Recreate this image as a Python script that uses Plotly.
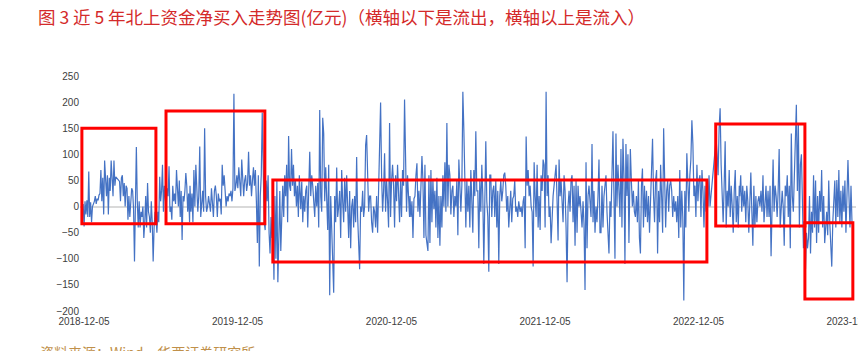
import pandas as pd
import plotly.graph_objects as go

# ---- data: daily net northbound buying (亿元), in chunks ----
chunk_starts = ["2018-12-03", "2019-08-14", "2020-05-01", "2021-01-18",
                "2021-10-07", "2022-06-26", "2023-03-13"]
chunk_ends = ["2019-08-13", "2020-04-30", "2021-01-17", "2021-10-06",
              "2022-06-25", "2023-03-12", "2023-12-05"]

vals_a = [5, -38, 10, -15, 12, -20, 67, -20, 8, -30, 0, 5, 10, 20, 5, 15, 12, 22,
          25, 70, 10, 55, -15, 88, 40, 20, 60, -15, 55, 30, 88, 50, 20, 88, 40, 57, 55,
          52, 50, 48, 10, 55, 60, 20, 45, 0, 40, 35, -25, 20, -20, 25, 35, 30, -5,
          -105, 0, 114, 10, -40, 10, -40, -10, -20, 0, -60, -30, 20, -40, 45, -10, -20,
          -50, 10, -30, -105, -40, -10, -20, -50, -10, -30,
          57, 10, 30, 80, -10, 40, 15, 0, 35, 20, 77, -10, 0, -25, 40, 10, 25, 5,
          70, 30, 0, 50, -20, 30, -64, 20, 10, 30, 64, 40, -10, 25, -30]
vals_b = [40, -10, 25, -30, 70, 0, 80, 10, -10, 20, 115, -20, 20, 30, -10, 150, 20, -10,
          0, 20, 5, -10, 35, 10, -20, 30, 40, 20, -20, 25, 10, 15, -15,
          80, 40, 60, 30, 0, 20, 10, 25, 20, 30, 10, 35, 216,
          30, 40, 60, 35, 75, 50, 20, 90, 40, 20, 50, 60, 30, 45,
          105, 40, 60, 20, 50, 75, 40, 70, 10, -70, 60, -115, 20,
          60, 180, 100, -30, -45, 50, 10, 60, -50, -90, -20, -60,
          -30, -140, 20, -100, 50, -145, -60, 30, -85, 10,
          40, -20, 60, 20, 80, -30, 135, 40, 30, 110, 40, 80, 20, 50, 0, 40, -20, 60]
vals_c = [20, -5, 48, -30, 20, -10, 30, 40, -40, 30, 105, 20, 60, 40, 10, -20, 40, 0, 45, -40,
          185, 20, -10, 170, 140, 10, 75, -20, -45, 80, -170, 20, -50, -100, -165, 20, -30,
          75, -20, 0, 30, -60, 70, 10, -30, 55, -10, 60, -20, -60, 30, -80, 0, 15,
          -40, 20, -30, 95, -20, -60, -120, 0, -10, 30, -20, 0, 118, 137, 40, -10, 20,
          20, -30, -50, 0, -10, -40, 20, -50, 30, 112, 199, 60, -10,
          30, 102, -10, 50, 10, -40, 160, -20, 50, 80, 40, -40, 60, 10,
          80, 20, -30, 50, -20, 70, 40, 205, 50, -10, 60, 10, -20]
vals_d = [20, -20, 10, -60, 15, 20, 60, 83, -10, 30, -20, 30, 97, 50, -60,
          80, -55, -70, -85, 60, -70, 70, -30, 50, -5, 30, -40, 55, -60, 20,
          -75, 20, -40, 60, 0, 85, -10, 160, 0, 80, 60, -15, 30, 40, -20,
          20, 0, 50, -55, 90, 20, -10, 40, 220, 147, 30, -40, 50, -10, 40, -40,
          70, 10, -50, 70, 20, 144, 30, 30, -80, 50, -10, 80, 20, -110, 50, 125, 10, -20,
          -125, 60, 60, -20, 30, 40, -20, 50, -40, 30, -110, 20,
          50, 10, 30, 60, 65, 40, -10, 20, -40, 0, 30, -30, 15, 20, 50, -10, 0, -20, 10, -5]
vals_e = [-10, 0, -20, 10, 20, -80, 134, 40, 70, 20, 40, 0, -10, -115, 85, 20, -20,
          80, -40, 20, -45, 60, 30, 90, 80, -40, 220, 20, 60, -20, 0, -70,
          -10, 20, 40, 60, 80, 10, -65, 90, 20, 50, 0, -30, 60, 30, -40, -145, 0, 30,
          -10, 50, 60, -30, 40, -75, 50, -50, 40, 0, 20, -20, -40, 10, -35,
          -160, 85, -80, 20, 40, 0, -20, 120, -30, 30, -50, 0, -30, 20, 90, -50,
          -50, 40, -40, 20, 40, 60, -10, -60, -90, 10, -20, 60, 144,
          20, -100, 140, 0, 80, 20, -20, 110, -40, 130, 60, -110, 120, 20, 100, -70, 80]
vals_f = [110, 50, 0, 30, -10, -20, 20, -30, 50, -60, -90, 40, 73, -40, 40, -20, 30,
          -30, 20, -50, 20, 60, 130, 20, -30, 50, 70, -90, 30, -30, 80, 20, -50,
          150, 10, -40, 30, 50, -10, 40, 50, 30, -20, 20, -10, 10, -30, 20,
          -60, 70, -40, 30, -20, -180, 30, -40, 102, 40, -10, 60, 90, 165, 120, 20,
          40, -20, 80, 10, 50, 60, -20, 70, 30, -40, 40, -10, 20, 0, 60,
          0, 20, 50, 60, 90, 110, 130, 100, 60, 150, 188, 80, 20, -30,
          40, 125, -40, 30, 0, 70, -20, 40, 0, -50, 30, 70, -30, 20, -40, 40]
vals_g = [20, 60, -10, 40, 0, 30, -30, 40, 10, -50, 30, 65, -10, -75, 40,
          -40, 20, -30, 10, 20, 0, 30, -10, 60, -30, 10, 40, -20, 30, -20, 40,
          -95, 30, 90, -10, 40, 20, -20, 30, 110, -40, -10, 30, 0, -75, 40,
          20, 60, -20, 40, -80, 140, 20, -10, 60, 100, 195, 30, 160, -40, 80,
          100, 20, -80, -30, -120, -50, -80, -60, 20, -90, -10, -50, 60, -40, 50,
          -70, 20, -50, 30, -10, 70, -40, 20, -70, -30, -10, -55, 50, -30, -70,
          -115, -30, 20, 50, -40, 51, -20, 70, -30, 30, -40, 40, -10, 50, -50, 60,
          89, 20, -40, 40, -30]
chunk_values = [vals_a, vals_b, vals_c, vals_d, vals_e, vals_f, vals_g]

tick_dates = ["2018-12-05", "2019-12-05", "2020-12-05", "2021-12-05", "2022-12-05", "2023-12-05"]
y_ticks = [-200, -150, -100, -50, 0, 50, 100, 150, 200, 250]

# highlighted periods (red boxes)
box_x0 = ["2018-11-30", "2019-06-18", "2020-02-27", "2023-01-15", "2023-08-15"]
box_x1 = ["2019-05-25", "2020-02-08", "2022-12-25", "2023-08-15", "2023-12-07"]
box_y0 = [-33, -33, -106, -37, -177]
box_y1 = [150, 183, 51, 158, -31]

title_text = "图 3 近 5 年北上资金净买入走势图(亿元)（横轴以下是流出，横轴以上是流入）"
source_text = "资料来源：Wind，华西证券研究所"

# ---- build series ----
dates, values = [], []
for s, e, v in zip(chunk_starts, chunk_ends, chunk_values):
    dates.extend(pd.date_range(s, e, periods=len(v)))
    values.extend(v)

fig = go.Figure()
fig.add_trace(go.Scatter(x=dates, y=values, mode="lines",
                         line=dict(color="#4472C4", width=1.2),
                         hoverinfo="x+y", showlegend=False))

for x0, x1, y0, y1 in zip(box_x0, box_x1, box_y0, box_y1):
    fig.add_shape(type="rect", xref="x", yref="y", x0=x0, x1=x1, y0=y0, y1=y1,
                  line=dict(color="#FF0000", width=3), fillcolor="rgba(0,0,0,0)")

fig.update_layout(
    width=858, height=351,
    margin=dict(l=80, r=2, t=76, b=40, autoexpand=False),
    paper_bgcolor="white", plot_bgcolor="white",
    font=dict(family="Liberation Sans, Arial, sans-serif", size=10, color="#404040"),
    title=dict(text=title_text, x=38 / 858, xref="container", xanchor="left",
               y=1 - 18 / 351, yref="container", yanchor="middle",
               font=dict(family="Noto Sans CJK SC", size=17.5, color="#D42A2A")),
    xaxis=dict(type="date", range=["2018-11-25 12:00", "2023-12-14 12:00"],
               tickvals=tick_dates, ticktext=tick_dates, showgrid=False,
               zeroline=False, showline=False, ticks="", ticklabeloverflow="allow",
               automargin=False, ticklabelstandoff=3,
               tickfont=dict(size=10, color="#404040")),
    yaxis=dict(range=[-200, 250], tickvals=y_ticks, showgrid=False, automargin=False,
               zeroline=True, zerolinecolor="#D9D9D9", zerolinewidth=1.5,
               showline=False, ticks="", tickfont=dict(size=10, color="#404040")),
    annotations=[dict(text=source_text, xref="paper", yref="paper",
                      x=-42 / 776, y=-41 / 235, xanchor="left", yanchor="middle",
                      showarrow=False,
                      font=dict(family="Noto Sans CJK SC", size=14, color="#C0904A"))],
)

fig.write_html("out.html")
